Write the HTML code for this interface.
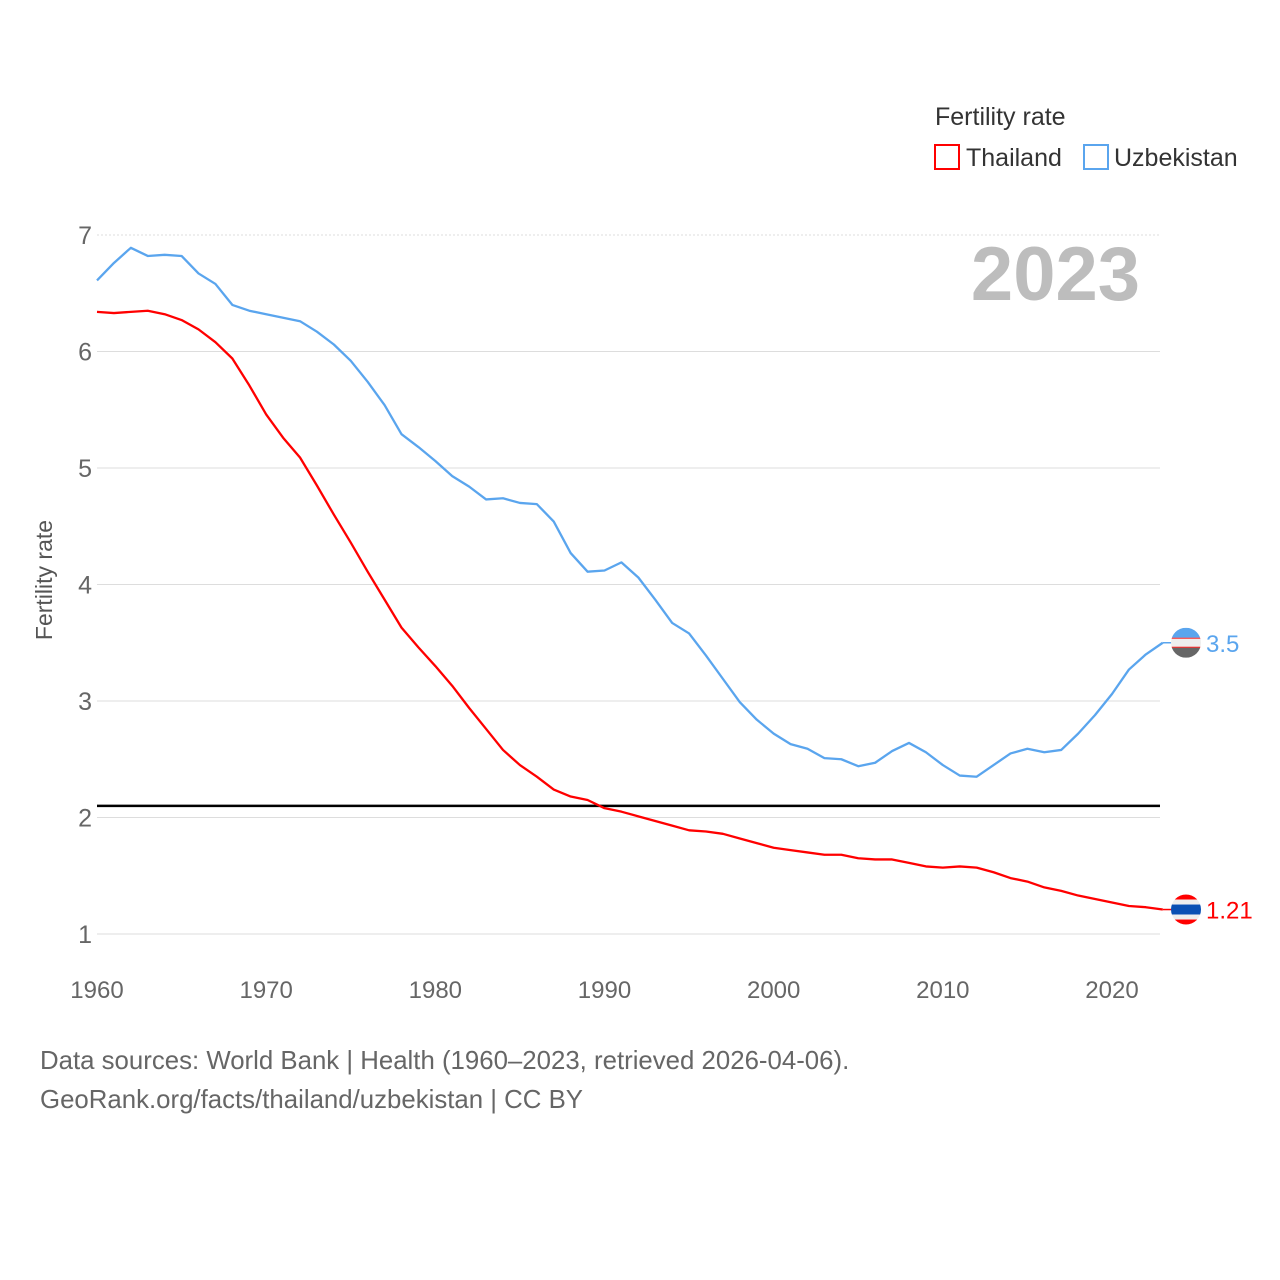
<!DOCTYPE html>
<html><head><meta charset="utf-8"><style>
body{margin:0;background:#fff}
svg{display:block;font-family:"Liberation Sans",sans-serif}
</style></head><body>
<svg id="chart" width="1280" height="1280" viewBox="0 0 1280 1280" xmlns="http://www.w3.org/2000/svg">
<g>
<text x="935" y="125" font-size="25" fill="#333">Fertility rate</text>
<rect x="935" y="145" width="24" height="24" fill="none" stroke="#f00" stroke-width="2"/>
<text x="966" y="166" font-size="25" fill="#333">Thailand</text>
<rect x="1084" y="145" width="24" height="24" fill="none" stroke="#5aa5ee" stroke-width="2"/>
<text x="1114" y="166" font-size="25" fill="#333">Uzbekistan</text>
</g>
<text x="1140" y="300" text-anchor="end" font-size="76" font-weight="bold" fill="#bdbdbd">2023</text>
<text transform="translate(52,580) rotate(-90)" text-anchor="middle" font-size="23" fill="#555">Fertility rate</text>
<g id="grid"></g><g id="ticks"></g><g id="series"></g><g id="ends"></g>
<text x="40" y="1069" font-size="25.8" fill="#666">Data sources: World Bank | Health (1960–2023, retrieved 2026-04-06).</text>
<text x="40" y="1108" font-size="25.8" fill="#666">GeoRank.org/facts/thailand/uzbekistan | CC BY</text>
</svg>
<script>
const years=[];for(let y=1960;y<=2023;y++)years.push(y);
const thailand=[6.34,6.33,6.34,6.35,6.32,6.27,6.19,6.08,5.94,5.71,5.46,5.26,5.09,4.85,4.60,4.36,4.11,3.87,3.63,3.46,3.30,3.13,2.94,2.76,2.58,2.45,2.35,2.24,2.18,2.15,2.08,2.05,2.01,1.97,1.93,1.89,1.88,1.86,1.82,1.78,1.74,1.72,1.70,1.68,1.68,1.65,1.64,1.64,1.61,1.58,1.57,1.58,1.57,1.53,1.48,1.45,1.40,1.37,1.33,1.30,1.27,1.24,1.23,1.21];
const uzbekistan=[6.61,6.76,6.89,6.82,6.83,6.82,6.67,6.58,6.40,6.35,6.32,6.29,6.26,6.17,6.06,5.92,5.74,5.54,5.29,5.18,5.06,4.93,4.84,4.73,4.74,4.70,4.69,4.54,4.27,4.11,4.12,4.19,4.06,3.87,3.67,3.58,3.39,3.19,2.99,2.84,2.72,2.63,2.59,2.51,2.50,2.44,2.47,2.57,2.64,2.56,2.45,2.36,2.35,2.45,2.55,2.59,2.56,2.58,2.72,2.88,3.06,3.27,3.40,3.50];
const yTicks=[1,2,3,4,5,6,7];
const xTicks=[1960,1970,1980,1990,2000,2010,2020];
const replacement=2.1;
const NS="http://www.w3.org/2000/svg";
const xs=y=>97+(y-1960)*(1015/60);
const ys=v=>934-(v-1)*116.5;
function mk(tag,attrs,parent){const e=document.createElementNS(NS,tag);for(const k in attrs)e.setAttribute(k,attrs[k]);document.getElementById(parent).appendChild(e);return e;}
yTicks.forEach(v=>{
 const l=mk('line',{x1:97,x2:1160,y1:ys(v),y2:ys(v),stroke:'#ddd','stroke-width':1,'stroke-dasharray':v===7?'2,2':''},'grid');
 
 
 const t=mk('text',{x:92,y:ys(v)+9,'text-anchor':'end','font-size':25,fill:'#666'},'ticks');t.textContent=v;
 
 
});
xTicks.forEach(y=>{
 const t=mk('text',{x:xs(y),y:998,'text-anchor':'middle','font-size':24,fill:'#666'},'ticks');t.textContent=y;
 
 
});
const rl=mk('line',{x1:97,x2:1160,y1:ys(replacement),y2:ys(replacement),stroke:'#000','stroke-width':2.5},'series');


function line(data,color,name){
 const p=mk('polyline',{points:data.map((v,i)=>xs(years[i])+','+ys(v)).join(' '),fill:'none',stroke:color,'stroke-width':2.3,'stroke-linejoin':'round'},'series');
 
 
}
line(uzbekistan,'#5aa5ee','uzbekistan-line');
line(thailand,'#f00','thailand-line');
function end(data,color,name,flag){
 const v=data[data.length-1],y=ys(v),x=1186;
 const c=mk('line',{x1:xs(2023),x2:x-14,y1:y,y2:y,stroke:color,'stroke-width':1.5},'ends');
 
 
 const g=mk('g',{},'ends');
 
 
 const id='clip'+name;
 const cp=document.createElementNS(NS,'clipPath');cp.setAttribute('id',id);
 const cc=document.createElementNS(NS,'circle');cc.setAttribute('cx',x);cc.setAttribute('cy',y);cc.setAttribute('r',15);cp.appendChild(cc);g.appendChild(cp);
 flag.forEach(([h0,h1,col])=>{const r=document.createElementNS(NS,'rect');r.setAttribute('x',x-15);r.setAttribute('width',30);r.setAttribute('y',y-15+h0);r.setAttribute('height',h1-h0);r.setAttribute('fill',col);r.setAttribute('clip-path','url(#'+id+')');g.appendChild(r);});
 const t=mk('text',{x:1206,y:y+9,'font-size':24,fill:color},'ends');t.textContent=v;
 
 
}
end(uzbekistan,'#5aa5ee','uzbekistan',[[0,10,'#5aa5ee'],[10,11,'#f00'],[11,19,'#eee'],[19,20,'#f00'],[20,30,'#666']]);
end(thailand,'#f00','thailand',[[0,5,'#f00'],[5,10,'#eee'],[10,20,'#0a50b4'],[20,25,'#eee'],[25,30,'#f00']]);
</script>
</body></html>
